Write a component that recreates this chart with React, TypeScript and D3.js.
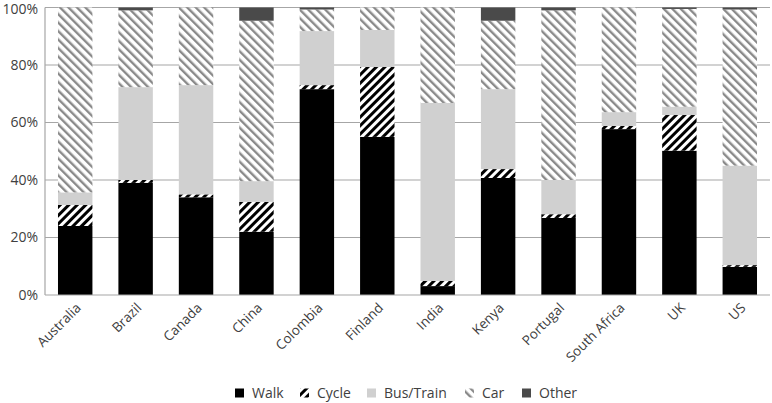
import { useEffect, useRef } from 'react';
import * as d3 from 'd3';

const countries = ['Australia', 'Brazil', 'Canada', 'China', 'Colombia', 'Finland', 'India', 'Kenya', 'Portugal', 'South Africa', 'UK', 'US'];
const walk = [24, 39, 34, 22, 71.6, 55, 3.1, 40.7, 26.8, 57.7, 50.2, 9.8];
const cycle = [7.3, 1, 1, 10.4, 1.4, 24.3, 1.8, 3.1, 1.3, 1.1, 12.4, 0.6];
const busTrain = [4.4, 32.3, 38, 7.2, 18.8, 12.9, 61.9, 27.8, 11.9, 4.8, 2.9, 34.6];
const car = [64.3, 26.7, 27, 55.8, 7.5, 7.8, 33.2, 23.8, 59, 36.4, 34, 54.3];
const other = [0, 1, 0, 4.6, 0.7, 0, 0, 4.6, 1, 0, 0.5, 0.7];
const seriesNames = ['Walk', 'Cycle', 'Bus/Train', 'Car', 'Other'];
const yTicks = [0, 20, 40, 60, 80, 100];

const W = 772;
const H = 403;
const FONT = '"Open Sans", sans-serif';

const App = () => {
  const svgRef = useRef<SVGSVGElement>(null);

  useEffect(() => {
    const svg = d3.select(svgRef.current);
    svg.selectAll('*').remove();

    const margin = { left: 45, right: 2, top: 7.5, bottom: 108 };
    const x = d3.scaleBand().domain(countries).range([margin.left, W - margin.right]).paddingInner(0.43).paddingOuter(0.215);
    const y = d3.scaleLinear().domain([0, 100]).range([H - margin.bottom, margin.top]);

    // patterns
    const defs = svg.append('defs');
    const cyc = defs.append('pattern').attr('id', 'cyclePat').attr('patternUnits', 'userSpaceOnUse')
      .attr('width', 6).attr('height', 6).attr('patternTransform', 'rotate(45)');
    cyc.append('rect').attr('width', 6).attr('height', 6).attr('fill', '#fff');
    cyc.append('rect').attr('width', 3).attr('height', 6).attr('fill', '#000');
    const carP = defs.append('pattern').attr('id', 'carPat').attr('patternUnits', 'userSpaceOnUse')
      .attr('width', 6).attr('height', 6).attr('patternTransform', 'rotate(-45)');
    carP.append('rect').attr('width', 6).attr('height', 6).attr('fill', '#fff');
    carP.append('rect').attr('width', 2.4).attr('height', 6).attr('fill', '#8a8a8a');

    const fills = ['#000', 'url(#cyclePat)', '#d0d0d0', 'url(#carPat)', '#4a4a4a'];

    // gridlines
    svg.append('g').selectAll('line').data(yTicks.filter(t => t > 0)).enter().append('line')
      .attr('x1', margin.left).attr('x2', W - margin.right)
      .attr('y1', d => y(d)).attr('y2', d => y(d))
      .attr('stroke', '#a6a6a6').attr('stroke-width', 1.2);

    // stacked bars
    const table = countries.map((c, i) => ({ country: c, Walk: walk[i], Cycle: cycle[i], 'Bus/Train': busTrain[i], Car: car[i], Other: other[i] }));
    const stacked = d3.stack<any>().keys(seriesNames)(table);
    svg.append('g').selectAll('g').data(stacked).enter().append('g')
      .attr('fill', (_d, i) => fills[i])
      .selectAll('rect').data(d => d).enter().append('rect')
      .attr('x', d => x(d.data.country) as number)
      .attr('width', x.bandwidth())
      .attr('y', d => y(d[1]))
      .attr('height', d => Math.max(0, y(d[0]) - y(d[1])));

    // axes lines
    svg.append('line').attr('x1', margin.left).attr('x2', W - margin.right)
      .attr('y1', y(0)).attr('y2', y(0)).attr('stroke', '#a6a6a6').attr('stroke-width', 1.2);
    svg.append('line').attr('x1', margin.left).attr('x2', margin.left)
      .attr('y1', y(0)).attr('y2', y(100)).attr('stroke', '#a6a6a6').attr('stroke-width', 1.2);

    // y tick labels
    svg.append('g').selectAll('text').data(yTicks).enter().append('text')
      .attr('x', 38).attr('y', d => y(d)).attr('dy', d => (d === 100 ? '0.45em' : '0.35em'))
      .attr('text-anchor', 'end').attr('font-family', FONT).attr('font-size', 14).attr('fill', '#404040')
      .text(d => `${d}%`);

    // x labels
    svg.append('g').selectAll('text').data(countries).enter().append('text')
      .attr('transform', d => `translate(${(x(d) as number) + x.bandwidth() / 2},${y(0) + 7}) rotate(-45)`)
      .attr('text-anchor', 'end').attr('dy', '0.7em')
      .attr('font-family', FONT).attr('font-size', 13.5).attr('fill', '#404040')
      .text(d => d);

    // legend
    const legendX = [235, 300, 367, 465, 522];
    const lg = svg.append('g').selectAll('g').data(seriesNames).enter().append('g')
      .attr('transform', (_d, i) => `translate(${legendX[i]},393)`);
    lg.append('rect').attr('x', 0).attr('y', -4.5).attr('width', 9).attr('height', 9)
      .attr('fill', (_d, i) => fills[i]);
    lg.append('text').attr('x', 17).attr('dy', '0.35em')
      .attr('font-family', FONT).attr('font-size', 14).attr('fill', '#404040')
      .text(d => d);
  }, []);

  return (
    <svg ref={svgRef} width={W} height={H} style={{ position: 'absolute', left: 0, top: 0, background: '#fff' }}></svg>
  );
};

export default App;
